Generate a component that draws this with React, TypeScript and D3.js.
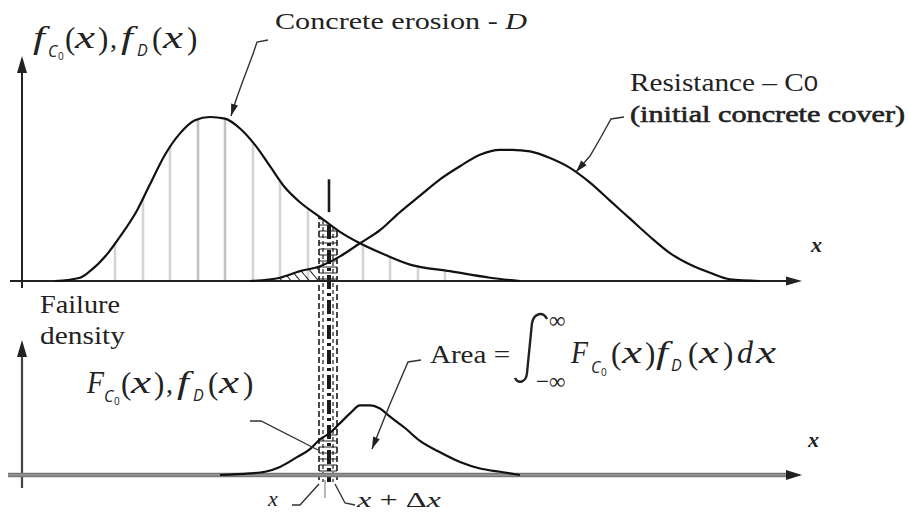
import React from "react";
import * as d3 from "d3";

// Concrete erosion D: probability density along the depth axis
const erosionX = [3.3, 5.8, 6.8, 8.6, 9.8, 11.5, 12.8, 14.3, 15.8, 17.3, 18.8, 20.3, 21.8, 23.3, 24.8, 26.3, 27.8, 29.8, 31.8, 33.8, 36.3, 38.8, 42.8, 46.8, 49.8];
const erosionY = [0, 0.02, 0.06, 0.17, 0.27, 0.43, 0.59, 0.77, 0.9, 0.98, 1.0, 0.99, 0.93, 0.83, 0.7, 0.57, 0.48, 0.39, 0.3, 0.23, 0.16, 0.1, 0.06, 0.02, 0];

// Resistance C0 (initial concrete cover): probability density
const coverX = [22.8, 25.8, 27.8, 29.8, 31.8, 33.8, 35.8, 37.8, 39.8, 41.8, 43.8, 45.8, 47.8, 49.0, 50.8, 52.8, 54.8, 56.8, 58.8, 60.8, 62.8, 64.8, 66.8, 68.8, 70.8, 73.8];
const coverY = [0, 0.02, 0.06, 0.09, 0.15, 0.23, 0.31, 0.42, 0.52, 0.62, 0.7, 0.77, 0.8, 0.8, 0.79, 0.75, 0.69, 0.6, 0.49, 0.38, 0.27, 0.17, 0.1, 0.05, 0.01, 0];

// Failure density F_C0(x) f_D(x)
const failX = [19.8, 22.8, 24.3, 25.8, 27.5, 28.8, 29.8, 30.8, 31.8, 32.8, 33.8, 34.8, 35.8, 36.8, 38.3, 39.8, 41.8, 43.8, 45.8, 47.8, 49.8];
const failY = [0, 0.01, 0.02, 0.05, 0.11, 0.16, 0.22, 0.26, 0.32, 0.38, 0.43, 0.43, 0.41, 0.36, 0.29, 0.21, 0.14, 0.08, 0.04, 0.02, 0];

// Vertical rulings drawn under the erosion density
const rulingX = [9.3, 12.1, 14.8, 17.6, 20.3, 23.1, 25.8, 28.6, 34.1, 36.8, 39.6, 42.3];

// Integration slice [x, x + Δx]
const sliceX = 29.7;
const sliceDx = 1.8;
// Left end of the overlap (hatched) region under C0
const overlapStart = 22.8;

const W = 909;
const H = 514;
const ink = "#222";
const serif = "'Liberation Serif', 'Times New Roman', serif";

const xScale = d3.scaleLinear().domain([0, 80]).range([22, 822]);
const yTop = d3.scaleLinear().domain([0, 1]).range([281, 117]);
const yBot = d3.scaleLinear().domain([0, 1]).range([475, 313]);

const zip = (xs: number[], ys: number[]) => xs.map((x, i) => [x, ys[i]] as [number, number]);

function curvePath(xs: number[], ys: number[], y: d3.ScaleLinear<number, number>) {
  return d3
    .line<[number, number]>()
    .x((d) => xScale(d[0]))
    .y((d) => y(d[1]))
    .curve(d3.curveMonotoneX)(zip(xs, ys)) as string;
}

function areaPath(xs: number[], ys: number[], y: d3.ScaleLinear<number, number>) {
  return d3
    .area<[number, number]>()
    .x((d) => xScale(d[0]))
    .y0(y(0))
    .y1((d) => y(d[1]))
    .curve(d3.curveMonotoneX)(zip(xs, ys)) as string;
}

function arrowHead(tx: number, ty: number, fx: number, fy: number, len = 13, half = 4) {
  const dx = tx - fx;
  const dy = ty - fy;
  const n = Math.hypot(dx, dy);
  const ux = dx / n;
  const uy = dy / n;
  const bx = tx - ux * len;
  const by = ty - uy * len;
  return `${tx},${ty} ${bx - uy * half},${by + ux * half} ${bx + uy * half},${by - ux * half}`;
}

type Piece = { t: string; x: number; y: number; size: number; it?: boolean; w?: number; sans?: boolean };

function MathLabel({ pieces }: { pieces: Piece[] }) {
  return (
    <g fill={ink}>
      {pieces.map((p, i) => (
        <text
          key={i}
          x={p.x}
          y={p.y}
          fontSize={p.size}
          fontStyle={p.it ? "italic" : "normal"}
          fontFamily={p.sans ? "'Open Sans', 'Liberation Sans', sans-serif" : serif}
          textLength={p.w}
          lengthAdjust={p.w ? "spacingAndGlyphs" : undefined}
        >
          {p.t}
        </text>
      ))}
    </g>
  );
}

function Leader({ pts, arrow = true }: { pts: [number, number][]; arrow?: boolean }) {
  const n = pts.length;
  const [tx, ty] = pts[n - 1];
  const [fx, fy] = pts[n - 2];
  return (
    <g>
      <polyline points={pts.map((p) => p.join(",")).join(" ")} fill="none" stroke="#333" strokeWidth={1.4} />
      {arrow && <polygon points={arrowHead(tx, ty, fx, fy, 12, 3.6)} fill="#222" />}
    </g>
  );
}

// f_{C0}(x), f_D(x)-style label laid out from a left edge and baseline
function densityPair(x: number, y: number, first: string): Piece[] {
  const isF = first === "F";
  const sub = isF ? 17 : 15;
  const p = isF ? 34 : 32;
  return [
    { t: first, x: x, y, size: 31, it: true, w: isF ? 17 : 12 },
    { t: "C", x: x + sub, y: y + 9, size: 16, it: true, sans: true },
    { t: "0", x: x + sub + 10, y: y + 12, size: 10, sans: true },
    { t: "(", x: x + p, y: y + 1, size: 31 },
    { t: "x", x: x + p + 10, y, size: 31, it: true, w: 20 },
    { t: ")", x: x + p + 33, y: y + 1, size: 31 },
    { t: ",", x: x + p + 45, y, size: 28 },
    { t: "f", x: x + p + 56, y, size: 31, it: true, w: 12 },
    { t: "D", x: x + p + 72, y: y + 8, size: 16, it: true, sans: true },
    { t: "(", x: x + p + 87, y: y + 1, size: 31 },
    { t: "x", x: x + p + 98, y, size: 31, it: true, w: 20 },
    { t: ")", x: x + p + 122, y: y + 1, size: 31 },
  ];
}

export default function App() {
  const x0 = xScale(sliceX);
  const x1 = xScale(sliceX + sliceDx);
  const xm = (x0 + x1) / 2;
  const baseTop = yTop(0);
  const baseBot = yBot(0);

  const upperMath = densityPair(33, 48, "f");
  const lowerMath = densityPair(87, 393, "F");

  const areaMath: Piece[] = [
    { t: "∞", x: 549, y: 328, size: 23 },
    { t: "−∞", x: 536, y: 389, size: 23 },
    { t: "F", x: 571, y: 363, size: 31, it: true, w: 17 },
    { t: "C", x: 591, y: 373, size: 16, it: true, sans: true },
    { t: "0", x: 601, y: 376, size: 10, sans: true },
    { t: "(", x: 611, y: 364, size: 31 },
    { t: "x", x: 622, y: 363, size: 31, it: true, w: 20 },
    { t: ")", x: 645, y: 364, size: 31 },
    { t: "f", x: 656, y: 363, size: 31, it: true, w: 12 },
    { t: "D", x: 671, y: 371, size: 16, it: true, sans: true },
    { t: "(", x: 688, y: 364, size: 31 },
    { t: "x", x: 699, y: 363, size: 31, it: true, w: 20 },
    { t: ")", x: 723, y: 364, size: 31 },
    { t: "d", x: 737, y: 363, size: 31, it: true, w: 16 },
    { t: "x", x: 756, y: 363, size: 31, it: true, w: 20 },
  ];

  const sliceLines = [
    { x: x0, w: 1.6, dash: "6,3" },
    { x: x0 + 4, w: 1.2, dash: "4,3" },
    { x: xm + 1, w: 4, dash: "14,4,3,4" },
    { x: x1 - 4, w: 1.2, dash: "4,3" },
    { x: x1, w: 1.6, dash: "6,3" },
  ];

  return (
    <svg
      width={W}
      height={H}
      viewBox={`0 0 ${W} ${H}`}
      style={{ position: "absolute", left: 0, top: 0, background: "#fff" }}
      fontFamily={serif}
    >
      <defs>
        <clipPath id="underErosion">
          <path d={areaPath(erosionX, erosionY, yTop)} />
        </clipPath>
        <clipPath id="underCover">
          <path d={areaPath(coverX, coverY, yTop)} />
        </clipPath>
        <clipPath id="sliceFill">
          <path d={areaPath(erosionX, erosionY, yTop)} />
          <path d={areaPath(failX, failY, yBot)} />
        </clipPath>
        <clipPath id="sliceSpan">
          <path d={areaPath(erosionX, erosionY, yTop)} />
          <rect x={0} y={baseTop} width={W} height={210} />
        </clipPath>
        <pattern id="diag" width={7} height={7} patternUnits="userSpaceOnUse" patternTransform="rotate(-40)">
          <line x1={0} y1={0} x2={0} y2={7} stroke="#222" strokeWidth={2} />
        </pattern>
        <pattern id="ladder" width={6} height={6} patternUnits="userSpaceOnUse">
          <line x1={0} y1={3} x2={6} y2={3} stroke="#444" strokeWidth={1.2} />
        </pattern>
      </defs>

      {/* rulings under erosion density */}
      <g clipPath="url(#underErosion)">
        {rulingX.map((r, i) => (
          <line
            key={i}
            x1={xScale(r)}
            x2={xScale(r)}
            y1={baseTop}
            y2={100}
            stroke={i === 3 || i === 4 ? "#c2c2c2" : "#d4d4d4"}
            strokeWidth={2.6}
          />
        ))}
      </g>

      {/* overlap hatching left of the slice */}
      <g clipPath="url(#underCover)">
        <rect
          x={xScale(overlapStart)}
          y={110}
          width={x0 - xScale(overlapStart)}
          height={baseTop - 110}
          fill="url(#diag)"
        />
      </g>

      {/* slice fill */}
      <g clipPath="url(#sliceFill)">
        <rect x={x0} y={100} width={x1 - x0} height={400} fill="url(#ladder)" />
      </g>

      {/* slice boundaries */}
      <g clipPath="url(#sliceSpan)">
        {sliceLines.map((l, i) => (
          <line key={i} x1={l.x} x2={l.x} y1={150} y2={482} stroke="#1a1a1a" strokeWidth={l.w} strokeDasharray={l.dash} />
        ))}
      </g>
      <line x1={xm + 1} x2={xm + 1} y1={yTop(0.62)} y2={yTop(0.42)} stroke="#1a1a1a" strokeWidth={2.6} />
      <line x1={xm - 3} x2={xm - 3} y1={480} y2={498} stroke="#888" strokeWidth={1.2} />

      {/* upper axes */}
      <line x1={22} x2={22} y1={288} y2={70} stroke="#222" strokeWidth={2} />
      <polygon points={arrowHead(22, 56, 22, 90, 17, 5)} fill="#222" />
      <line x1={10} x2={790} y1={baseTop} y2={baseTop} stroke="#222" strokeWidth={2} />
      <polygon points={arrowHead(802, baseTop, 700, baseTop, 16, 4.5)} fill="#222" />

      {/* densities */}
      <path d={curvePath(erosionX, erosionY, yTop)} fill="none" stroke="#111" strokeWidth={2.2} />
      <path d={curvePath(coverX, coverY, yTop)} fill="none" stroke="#111" strokeWidth={2.2} />

      {/* lower axes */}
      <line x1={22} x2={22} y1={488} y2={354} stroke="#444" strokeWidth={2.2} />
      <polygon points={arrowHead(22, 340, 22, 400, 17, 5)} fill="#222" />
      <line x1={8} x2={790} y1={baseBot} y2={baseBot} stroke="#777" strokeWidth={4.5} />
      <line x1={8} x2={790} y1={baseBot} y2={baseBot} stroke="#a5a5a5" strokeWidth={1.2} />
      <polygon points={arrowHead(802, baseBot, 700, baseBot, 16, 5)} fill="#222" />

      {/* failure density */}
      <path d={curvePath(failX, failY, yBot)} fill="none" stroke="#111" strokeWidth={2.2} />

      {/* leaders */}
      <Leader pts={[[268, 40], [257, 42], [253, 54], [247, 70], [241, 86], [236, 100], [231, 116]]} />
      <Leader pts={[[624, 117], [611, 119], [601, 137], [590, 156], [576, 172]]} />
      <Leader pts={[[421, 360], [408, 362], [390, 404], [372, 449]]} />
      <Leader pts={[[250, 421], [261, 421], [318, 450]]} arrow={false} />
      <polyline points={`292,505 300,505 ${x0},484`} fill="none" stroke="#333" strokeWidth={1.4} />
      <polyline points={`${x1 - 2},484 345,503 355,505`} fill="none" stroke="#333" strokeWidth={1.4} />

      {/* integral sign */}
      <path
        d="M 547 319 C 543 311, 534 313, 532 323 L 527 373 C 526 383, 518 384, 515 378"
        fill="none"
        stroke={ink}
        strokeWidth={2.4}
      />

      {/* labels */}
      <MathLabel pieces={upperMath} />
      <MathLabel pieces={lowerMath} />
      <MathLabel pieces={areaMath} />

      <g fill={ink}>
        <text x={275} y={29} fontSize={24} textLength={252} lengthAdjust="spacingAndGlyphs">
          Concrete erosion - <tspan fontStyle="italic">D</tspan>
        </text>
        <text x={630} y={91} fontSize={25} textLength={188} lengthAdjust="spacingAndGlyphs">
          Resistance – C<tspan fontSize={22} fontFamily="'Liberation Sans', sans-serif">0</tspan>
        </text>
        <text
          x={630}
          y={122}
          fontSize={24}
          stroke={ink}
          strokeWidth={0.6}
          textLength={275}
          lengthAdjust="spacingAndGlyphs"
        >
          (initial concrete cover)
        </text>
        <text x={40} y={313} fontSize={26} textLength={80} lengthAdjust="spacingAndGlyphs">
          Failure
        </text>
        <text x={40} y={344} fontSize={26} textLength={85} lengthAdjust="spacingAndGlyphs">
          density
        </text>
        <text x={430} y={363} fontSize={25} textLength={80} lengthAdjust="spacingAndGlyphs">
          Area =
        </text>
        <text x={811} y={252} fontSize={22} fontStyle="italic" fontWeight="bold">
          x
        </text>
        <text x={808} y={447} fontSize={22} fontStyle="italic" fontWeight="bold">
          x
        </text>
        <text x={268} y={506} fontSize={22} fontStyle="italic">
          x
        </text>
        <text x={357} y={507} fontSize={22} textLength={84} lengthAdjust="spacingAndGlyphs">
          <tspan fontStyle="italic">x</tspan> + Δ<tspan fontStyle="italic">x</tspan>
        </text>
      </g>
    </svg>
  );
}
